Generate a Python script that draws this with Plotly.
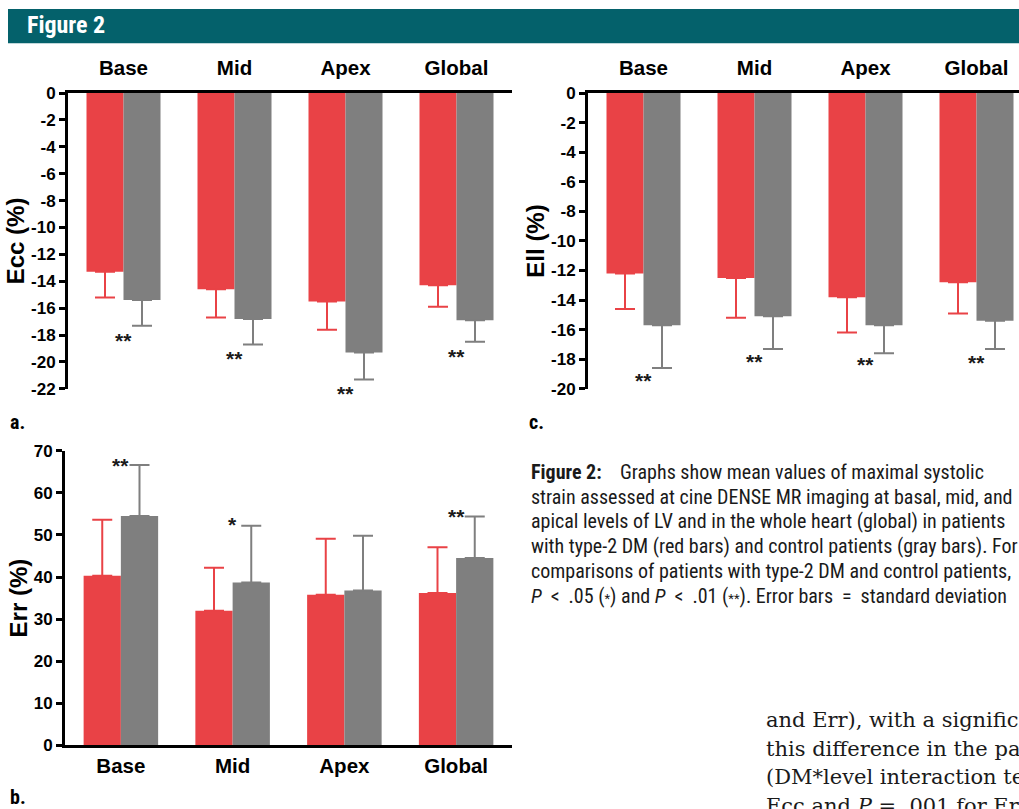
import plotly.graph_objects as go

# Page geometry: the figure is drawn with the body margin removed; the
# photograph maps page y -> 0.978*(y + 8) (measured), x is 1:1.
W, H = 1019, 828
SY, TY = 0.978, 8.0

# ---------------- data ----------------
categories = ["Base", "Mid", "Apex", "Global"]

ecc_dm = [-13.3, -14.6, -15.5, -14.3]
ecc_dm_sd = [1.9, 2.1, 2.1, 1.6]
ecc_ctrl = [-15.4, -16.8, -19.3, -16.9]
ecc_ctrl_sd = [1.9, 1.9, 2.0, 1.6]
ecc_sig = ["**", "**", "**", "**"]
ecc_sig_y = [-18.0, -19.4, -22.0, -19.2]
ecc_ticks = list(range(-22, 1, 2))

ell_dm = [-12.2, -12.5, -13.8, -12.8]
ell_dm_sd = [2.4, 2.7, 2.4, 2.1]
ell_ctrl = [-15.7, -15.1, -15.7, -15.4]
ell_ctrl_sd = [2.9, 2.2, 1.9, 1.9]
ell_sig = ["**", "**", "**", "**"]
ell_sig_y = [-19.1, -17.8, -18.0, -17.9]
ell_ticks = list(range(-20, 1, 2))

err_dm = [40.3, 32.0, 35.8, 36.2]
err_dm_sd = [13.3, 10.2, 13.3, 10.9]
err_ctrl = [54.5, 38.7, 36.8, 44.5]
err_ctrl_sd = [12.1, 13.5, 13.0, 9.9]
err_sig = ["**", "*", "", "**"]
err_sig_y = [67.8, 53.6, None, 55.6]
err_ticks = list(range(0, 71, 10))

EN = "\u2002"
caption_lines = [
    "<b>Figure 2:</b>\u00a0\u00a0\u00a0\u00a0Graphs show mean values of maximal systolic",
    "strain assessed at cine DENSE MR imaging at basal, mid, and",
    "apical levels of LV and in the whole heart (global) in patients",
    "with type-2 DM (red bars) and control patients (gray bars). For",
    "comparisons of patients with type-2 DM and control patients,",
    "<i>P</i>" + EN + "<" + EN + ".05 (<span style='font-size:13px'>*</span>) and <i>P</i>"
    + EN + "<" + EN + ".01 (<span style='font-size:13px'>**</span>). Error bars"
    + EN + "=" + EN + "standard deviation",
]
body_lines = [
    "and Err), with a signific",
    "this difference in the pa",
    "(DM*level interaction te",
    "Ecc and <i>P</i> = .001 for Err",
]

# ---------------- style ----------------
RED = "#E94246"
GRAY = "#7F7F7F"
TEAL = "#04616B"
SANS = "Liberation Sans, Arial, sans-serif"
NARROW = "Liberation Sans Narrow, Arial Narrow, Roboto Condensed, Liberation Sans, sans-serif"
SERIF = "DejaVu Serif, Liberation Serif, serif"


def px(x):
    return min(max(x / W, 0.0), 1.0)


def py(y):
    local = y / SY - TY
    return min(max(1 - local / H, 0.0), 1.0)


fig = go.Figure()

panels = [
    ("x", "y", ecc_dm, ecc_dm_sd, ecc_ctrl, ecc_ctrl_sd, False),
    ("x2", "y2", ell_dm, ell_dm_sd, ell_ctrl, ell_ctrl_sd, False),
    ("x3", "y3", err_dm, err_dm_sd, err_ctrl, err_ctrl_sd, True),
]
for xa, ya, dm, dm_sd, ct, ct_sd, positive in panels:
    for vals, sd, col in ((dm, dm_sd, RED), (ct, ct_sd, GRAY)):
        zeros = [0] * len(sd)
        fig.add_trace(go.Bar(
            x=categories, y=vals, xaxis=xa, yaxis=ya,
            marker=dict(color=col, line=dict(width=0)),
            error_y=dict(type="data", symmetric=False,
                         array=sd if positive else zeros,
                         arrayminus=zeros if positive else sd,
                         color=col, thickness=2, width=10),
            showlegend=False, hoverinfo="skip",
        ))

tickfont = dict(family=SANS, size=17, color="black", weight="bold")
catfont = dict(family=SANS, size=20.5, color="black", weight="bold")
titlefont = dict(family=SANS, size=24, color="black", weight="bold")

common_y = dict(showgrid=False, zeroline=False, showline=True, linewidth=3,
                linecolor="black", ticks="outside", ticklen=6, tickwidth=2.5,
                tickcolor="black", tickfont=tickfont, tickmode="array")
common_x = dict(showgrid=False, zeroline=False, showline=True, linewidth=3,
                linecolor="black", ticks="", tickfont=catfont,
                type="category", categoryorder="array", categoryarray=categories)

fig.update_layout(
    width=W, height=H,
    margin=dict(l=0, r=0, t=0, b=0),
    paper_bgcolor="white", plot_bgcolor="white",
    barmode="group", bargap=1/3, bargroupgap=0,
    xaxis=dict(common_x, domain=[px(68), px(512)], anchor="y", side="top",
               range=[-0.5, 3.5], ticklabelstandoff=7),
    yaxis=dict(common_y, domain=[py(388), py(92)], anchor="x", range=[-22, 0],
               tickvals=ecc_ticks, ticktext=[str(v) for v in ecc_ticks],
               title=dict(text="Ecc (%)", font=titlefont, standoff=0)),
    xaxis2=dict(common_x, domain=[px(588), 1], anchor="y2", side="top",
                range=[-0.5, -0.5 + (W - 588) / 111.0], ticklabelstandoff=7),
    yaxis2=dict(common_y, domain=[py(388), py(92)], anchor="x2", range=[-20, 0],
                tickvals=ell_ticks, ticktext=[str(v) for v in ell_ticks],
                title=dict(text="Ell (%)", font=titlefont, standoff=0)),
    xaxis3=dict(common_x, domain=[px(65), px(512)], anchor="y3", side="bottom",
                range=[-0.5, 3.5], ticklabelstandoff=0),
    yaxis3=dict(common_y, domain=[py(745), py(450)], anchor="x3", range=[0, 70],
                tickvals=err_ticks, ticktext=[str(v) for v in err_ticks],
                title=dict(text="Err (%)", font=titlefont, standoff=0)),
)

# significance stars
star_font = dict(family=SANS, size=21, color="#1a1a1a", weight="bold")
for xref, yref, sig, sy in (("x", "y", ecc_sig, ecc_sig_y),
                            ("x2", "y2", ell_sig, ell_sig_y),
                            ("x3", "y3", err_sig, err_sig_y)):
    for cat, s, yv in zip(categories, sig, sy):
        if s and yv is not None:
            fig.add_annotation(x=cat, y=yv, xref=xref, yref=yref, text=s,
                               showarrow=False, font=star_font, yshift=-5)

# header bar
fig.add_shape(type="rect", xref="paper", yref="paper",
              x0=px(8), x1=1.0, y0=py(42), y1=py(5),
              fillcolor=TEAL, line=dict(width=0), layer="below")
fig.add_annotation(xref="paper", yref="paper", x=px(25), y=py(24),
                   xanchor="left", yanchor="middle", showarrow=False,
                   text="<b>Figure 2</b>",
                   font=dict(family=NARROW, size=24, color="white"))

# panel letters
for lab, x, y in (("a.", 8, 421), ("c.", 527, 421), ("b.", 8, 797)):
    fig.add_annotation(xref="paper", yref="paper", x=px(x), y=py(y),
                       xanchor="left", yanchor="middle", showarrow=False,
                       text="<b>" + lab + "</b>",
                       font=dict(family=NARROW, size=20, color="black"))

# caption
for i, line in enumerate(caption_lines):
    fig.add_annotation(xref="paper", yref="paper", x=px(529), y=py(471 + 24.8 * i),
                       xanchor="left", yanchor="middle", showarrow=False,
                       text=line, align="left",
                       font=dict(family=NARROW, size=20, color="#1a1a1a"))

# body text
for i, line in enumerate(body_lines):
    fig.add_annotation(xref="paper", yref="paper", x=px(764), y=py(720 + 28.5 * i),
                       xanchor="left", yanchor="middle", showarrow=False,
                       text=line, align="left",
                       font=dict(family=SERIF, size=21, color="#1a1a1a"))

fig.write_html("out.html", config={"displayModeBar": False},
               post_script="document.body.style.margin='0';")
